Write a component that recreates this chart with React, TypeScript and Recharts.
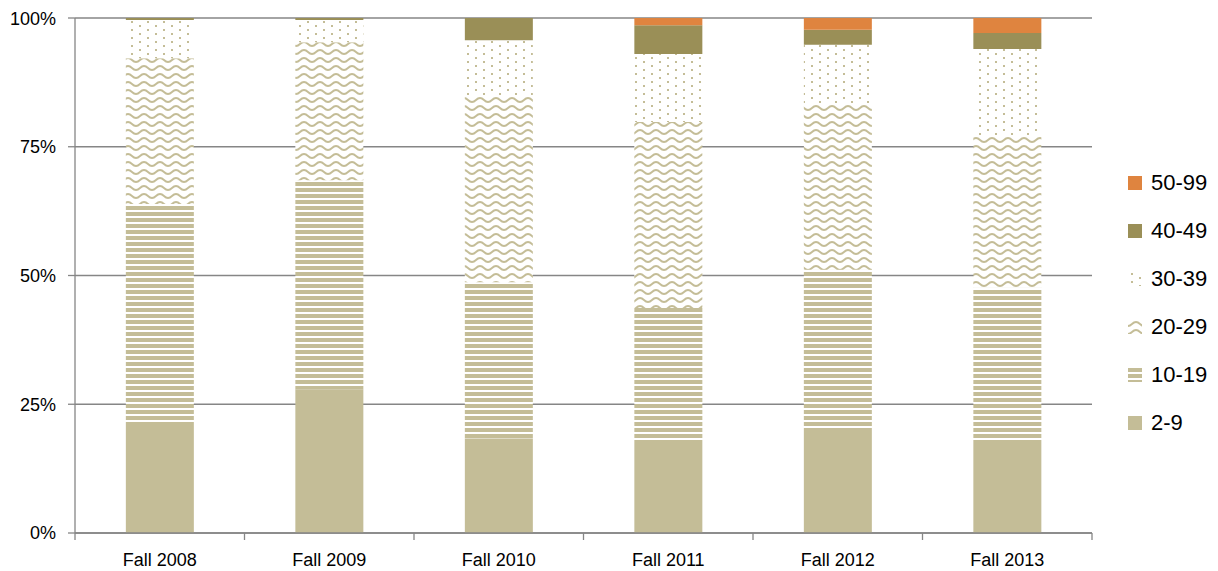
import { Bar, BarChart, CartesianGrid, XAxis, YAxis } from 'recharts';

const terms = ['Fall 2008', 'Fall 2009', 'Fall 2010', 'Fall 2011', 'Fall 2012', 'Fall 2013'];
const size2to9 = [20.8, 27.8, 18.4, 17.3, 19.6, 17.5];
const size10to19 = [43.1, 40.7, 30.3, 26.4, 31.5, 30.1];
const size20to29 = [28.3, 26.8, 36.0, 36.1, 32.2, 29.5];
const size30to39 = [7.4, 4.3, 11.0, 13.2, 11.5, 16.9];
const size40to49 = [0.4, 0.4, 4.3, 5.6, 2.9, 3.1];
const size50to99 = [0, 0, 0, 1.4, 2.3, 2.9];
const yTicks = [0, 0.25, 0.5, 0.75, 1];

const TAN = '#C4BD97';
const OLIVE = '#9A8F57';
const ORANGE = '#DF843F';
const GRID = '#868686';
const FONT = '"Liberation Sans", Arial, sans-serif';

const series = [
  { key: 's2', name: '2-9', fill: TAN },
  { key: 's10', name: '10-19', fill: 'url(#pat-lines)' },
  { key: 's20', name: '20-29', fill: 'url(#pat-wave)' },
  { key: 's30', name: '30-39', fill: 'url(#pat-dots)' },
  { key: 's40', name: '40-49', fill: OLIVE },
  { key: 's50', name: '50-99', fill: ORANGE },
];

const data = terms.map((term, i) => ({
  term,
  s2: size2to9[i],
  s10: size10to19[i],
  s20: size20to29[i],
  s30: size30to39[i],
  s40: size40to49[i],
  s50: size50to99[i],
}));

const Patterns = () => (
  <defs>
    <pattern id="pat-lines" patternUnits="userSpaceOnUse" width="6" height="6">
      <rect width="6" height="6" fill="#fff" />
      <rect width="6" height="4" fill={TAN} />
    </pattern>
    <pattern id="pat-wave" patternUnits="userSpaceOnUse" width="16" height="8">
      <rect width="16" height="8" fill="#fff" />
      <path d="M0 6 C4 6 4 2 8 2 C12 2 12 6 16 6" stroke={TAN} strokeWidth="1.8" fill="none" />
    </pattern>
    <pattern id="pat-dots" patternUnits="userSpaceOnUse" width="16" height="8">
      <rect width="16" height="8" fill="#fff" />
      <rect x="3" y="1" width="2" height="2" fill={TAN} />
      <rect x="11" y="5" width="2" height="2" fill={TAN} />
    </pattern>
  </defs>
);

const XTick = (props: any) => {
  const { x, y, payload, index, visibleTicksCount } = props;
  const half = payload && payload.offset ? payload.offset : 84.75;
  const axisY = y - 20;
  const last = index === (visibleTicksCount ?? terms.length) - 1;
  return (
    <g>
      <line x1={x - half} x2={x - half} y1={axisY} y2={axisY + 7} stroke={GRID} strokeWidth={1.3} />
      {last && <line x1={x + half} x2={x + half} y1={axisY} y2={axisY + 7} stroke={GRID} strokeWidth={1.3} />}
      <text x={x} y={y} dy="0.71em" textAnchor="middle" fill="#000" fontSize={18} fontFamily={FONT}>
        {payload.value}
      </text>
    </g>
  );
};

export default function App() {
  return (
    <div style={{ position: 'relative', width: 1202, height: 563 }}>
      <BarChart
        width={1202}
        height={563}
        data={data}
        stackOffset="expand"
        barCategoryGap="30%"
        margin={{ top: 10, right: 118, left: 0, bottom: 8 }}
      >
        <Patterns />
        <CartesianGrid vertical={false} stroke={GRID} strokeWidth={1.3} />
        <XAxis
          dataKey="term"
          height={30}
          axisLine={{ stroke: GRID, strokeWidth: 1.3 }}
          tickLine={false}
          tickSize={8}
          tickMargin={12}
          tick={<XTick />}
          interval={0}
        />
        <YAxis
          width={67}
          domain={[0, 1]}
          ticks={yTicks}
          tickFormatter={(v: number) => `${Math.round(v * 100)}%`}
          axisLine={{ stroke: GRID, strokeWidth: 1.3 }}
          tickLine={{ stroke: GRID, strokeWidth: 1.3 }}
          tickSize={7}
          tickMargin={12}
          tick={{ fill: '#000', fontSize: 18, fontFamily: FONT }}
        />
        {series.map((s) => (
          <Bar key={s.key} dataKey={s.key} name={s.name} stackId="a" fill={s.fill} isAnimationActive={false} />
        ))}
      </BarChart>
      <div style={{ position: 'absolute', left: 1120, top: 151, fontFamily: FONT, fontSize: 22, color: '#000' }}>
        {[...series].reverse().map((s) => (
          <div key={s.key} style={{ display: 'flex', alignItems: 'center', height: 48 }}>
            <svg width={14} height={14} style={{ marginRight: 9 }}>
              <rect width={14} height={14} fill={s.fill} />
            </svg>
            <span>{s.name}</span>
          </div>
        ))}
      </div>
    </div>
  );
}
